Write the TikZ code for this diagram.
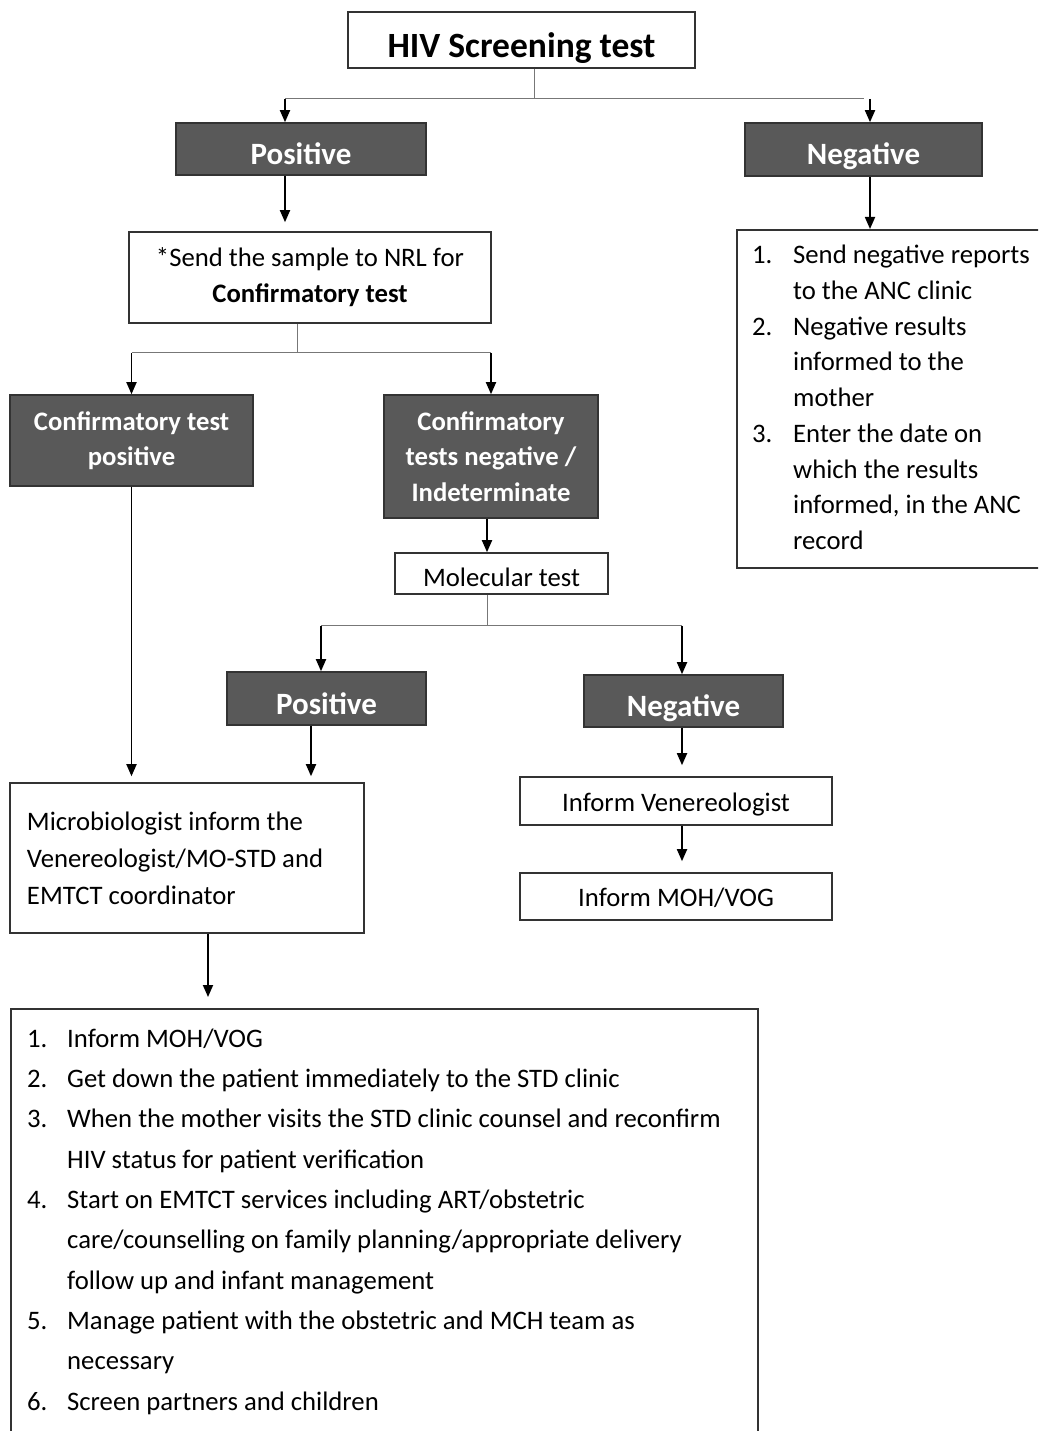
\documentclass[tikz,border=0pt]{standalone}
\usepackage{fontspec}
\setmainfont{Carlito}
\usetikzlibrary{arrows.meta}
\definecolor{darkfill}{HTML}{595959}
\definecolor{edgec}{HTML}{333333}
\definecolor{thinc}{HTML}{777777}
\begin{document}
\begin{tikzpicture}[x=1pt,y=-1pt,
  wbox/.style={draw=edgec, line width=1.6pt, fill=white, inner sep=0pt, align=center,
    font=\fontsize{26.7}{36}\selectfont},
  dbox/.style={draw=edgec, line width=1.6pt, fill=darkfill, text=white, inner sep=0pt, align=center,
    font=\bfseries\fontsize{26.7}{35.5}\selectfont},
  bigdark/.style={dbox, font=\bfseries\fontsize{31}{34}\selectfont, text height=31pt, text depth=0pt},
  arr/.style={-{Triangle[width=10pt,length=12pt]}, line width=1.8pt, draw=black},
  thinln/.style={line width=1pt, draw=thinc},
  listtxt/.style={inner sep=0pt, anchor=base west}]
\useasboundingbox (0,0) rectangle (1038,1431);
\clip (0,0) rectangle (1038,1431);

% --- nodes ---
\node[wbox, minimum width=347pt, minimum height=56pt, font=\bfseries\fontsize{35.5}{40}\selectfont,
  text height=35pt, text depth=0pt]
  (hiv) at (521.5,40) {HIV Screening test};
\node[bigdark, minimum width=250pt, minimum height=52pt] (pos) at (301,149) {Positive};
\node[bigdark, minimum width=237pt, minimum height=53pt] (neg) at (863.5,149.5) {Negative};
\node[wbox, minimum width=362pt, minimum height=91pt] (send) at (310,277.5)
  {*Send the sample to NRL for\\\textbf{Confirmatory test}};
\node[wbox, minimum width=330pt, minimum height=338pt, anchor=north west] (neglist) at (736,229) {};
\node[listtxt, font=\fontsize{26.7}{35.75}\selectfont] (negtext) at (752,263.5)
 {\begin{tabular}[t]{@{}p{41pt}@{}l@{}}
  1. & Send negative reports\\
     & to the ANC clinic\\
  2. & Negative results\\
     & informed to the\\
     & mother\\
  3. & Enter the date on\\
     & which the results\\
     & informed, in the ANC\\
     & record
 \end{tabular}};
\node[dbox, minimum width=243pt, minimum height=91pt] (cpos) at (131.5,440.5) {Confirmatory test\\positive};
\node[dbox, minimum width=214pt, minimum height=123pt] (cneg) at (491,456.5)
  {Confirmatory\\tests negative /\\Indeterminate};
\node[wbox, minimum width=213pt, minimum height=41pt, text height=26pt, text depth=0pt]
  (mol) at (501.5,573.5) {Molecular test};
\node[bigdark, minimum width=199pt, minimum height=53pt] (pos2) at (326.5,698.5) {Positive};
\node[bigdark, minimum width=199pt, minimum height=52pt] (neg2) at (683.5,701) {Negative};
\node[wbox, minimum width=354pt, minimum height=150pt, text width=320pt, align=flush left,
  inner xsep=17pt, font=\fontsize{26.7}{37}\selectfont] (micro) at (187,858)
  {Microbiologist inform the\\Venereologist/MO-STD and\\EMTCT coordinator};
\node[wbox, minimum width=312pt, minimum height=48pt, text height=21pt, text depth=0pt]
  (iv) at (676,801) {Inform Venereologist};
\node[wbox, minimum width=312pt, minimum height=47pt, text height=20pt, text depth=0pt]
  (imoh) at (676,896.5) {Inform MOH/VOG};
\node[wbox, minimum width=747pt, minimum height=460pt, anchor=north west] (biglist) at (10,1008) {};
\node[listtxt, font=\fontsize{26.7}{40.35}\selectfont] (bigtext) at (27,1047)
 {\begin{tabular}[t]{@{}p{40pt}@{}l@{}}
  1. & Inform MOH/VOG\\
  2. & Get down the patient immediately to the STD clinic\\
  3. & When the mother visits the STD clinic counsel and reconfirm\\
     & HIV status for patient verification\\
  4. & Start on EMTCT services including ART/obstetric\\
     & care/counselling on family planning/appropriate delivery\\
     & follow up and infant management\\
  5. & Manage patient with the obstetric and MCH team as\\
     & necessary\\
  6. & Screen partners and children
 \end{tabular}};

% --- connectors ---
\draw[thinln] ([xshift=12.5pt]hiv.south) -- ++(0,30) coordinate (j1);
\draw[thinln] ([xshift=-16pt]pos.north |- j1) -- (neg.north |- j1);
\draw[arr] ([xshift=-16pt]pos.north |- j1) -- ([xshift=-16pt]pos.north);
\draw[arr] ([xshift=6.5pt]neg.north |- j1) -- ([xshift=6.5pt]neg.north);
\draw[arr, shorten >=9pt] ([xshift=-16pt]pos.south) -- ([xshift=-25pt]send.north);
\draw[arr] ([xshift=6.5pt]neg.south) -- ([xshift=6.5pt]neg.south |- neglist.north);

\draw[thinln] ([xshift=-13pt]send.south) -- ++(0,29) coordinate (j2);
\draw[thinln] (cpos.north |- j2) -- (cneg.north |- j2);
\draw[arr] (cpos.north |- j2) -- (cpos.north);
\draw[arr] (cneg.north |- j2) -- (cneg.north);
\draw[arr] ([xshift=-4pt]cneg.south) -- ([xshift=-4pt]cneg.south |- mol.north);

\draw[thinln] ([xshift=-14.5pt]mol.south) -- ++(0,31) coordinate (j3);
\draw[thinln] ([xshift=-5.5pt]pos2.north |- j3) -- ([xshift=-1.5pt]neg2.north |- j3);
\draw[arr] ([xshift=-5.5pt]pos2.north |- j3) -- ([xshift=-5.5pt]pos2.north);
\draw[arr] ([xshift=-1.5pt]neg2.north |- j3) -- ([xshift=-1.5pt]neg2.north);

\draw[arr, shorten >=6pt] (cpos.south) -- (cpos.south |- micro.north);
\draw[arr, shorten >=6pt] ([xshift=-15.5pt]pos2.south) -- ([xshift=-15.5pt]pos2.south |- micro.north);
\draw[arr, shorten >=11pt] ([xshift=-1.5pt]neg2.south) -- ([xshift=-1.5pt]neg2.south |- iv.north);
\draw[arr, shorten >=11pt] ([xshift=6pt]iv.south) -- ([xshift=6pt]imoh.north);
\draw[arr, shorten >=11pt] ([xshift=21pt]micro.south) -- ([xshift=21pt]micro.south |- biglist.north);
\end{tikzpicture}
\end{document}
